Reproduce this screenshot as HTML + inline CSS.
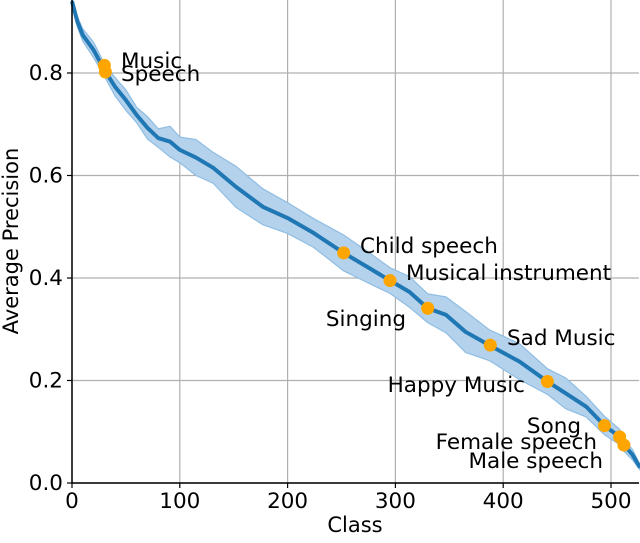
<!DOCTYPE html>
<html><head><meta charset="utf-8"><style>
body{margin:0;background:#fff}
svg text{font-family:"DejaVu Sans","Liberation Sans",sans-serif;fill:#000}
</style></head><body>
<svg id="chart" width="640" height="538" xmlns="http://www.w3.org/2000/svg"></svg>
<script>
const classes=[0,5,10,20,30,40,50,60,70,80,91,100,115,131,152,177,200,224,252,276,295,313,330,347,365,387,415,441,458,477,494,508,512,520,527];
const apValues=[0.94,0.90,0.874,0.845,0.806,0.773,0.747,0.718,0.693,0.673,0.666,0.650,0.635,0.615,0.578,0.539,0.517,0.488,0.449,0.419,0.395,0.373,0.341,0.328,0.295,0.269,0.237,0.198,0.175,0.149,0.112,0.090,0.074,0.055,0.03];
const spread=[0.005,0.01,0.012,0.015,0.012,0.018,0.02,0.015,0.022,0.018,0.03,0.025,0.035,0.03,0.04,0.035,0.03,0.028,0.035,0.03,0.025,0.03,0.028,0.035,0.04,0.03,0.035,0.025,0.03,0.02,0.018,0.015,0.012,0.01,0.005];
const markerClasses=[30,31,252,295,330,388,441,494,508,512];
const markerValues=[0.815,0.802,0.449,0.395,0.341,0.269,0.198,0.112,0.090,0.074];
const labelNames=["Music","Speech","Child speech","Musical instrument","Singing","Sad Music","Happy Music","Song","Female speech","Male speech"];
const xTicks=[0,100,200,300,400,500];
const yTicks=[0.0,0.2,0.4,0.6,0.8];

const L=72,R=639,T=0,B=483;
const xS=v=>L+v*(611-72)/500;
const yS=v=>B-v*512.5;
const svg=document.getElementById('chart');
const NS='http://www.w3.org/2000/svg';
function mk(tag,attrs,parent){const e=document.createElementNS(NS,tag);for(const k in attrs)e.setAttribute(k,attrs[k]);(parent||svg).appendChild(e);return e;}

xTicks.forEach(t=>{const g=mk('line',{x1:xS(t),x2:xS(t),y1:T,y2:B,stroke:'#b0b0b0','stroke-width':1.2});

});
yTicks.forEach(t=>{const g=mk('line',{x1:L,x2:R,y1:yS(t),y2:yS(t),stroke:'#b0b0b0','stroke-width':1.2});

});

let up=classes.map((c,i)=>xS(c)+','+yS(apValues[i]+spread[i]));
let lo=classes.map((c,i)=>xS(c)+','+yS(apValues[i]-spread[i])).reverse();
const band=mk('polygon',{points:up.concat(lo).join(' '),fill:'#b5d2ec',stroke:'#8ebde3','stroke-width':1.2});


const line=mk('polyline',{points:classes.map((c,i)=>xS(c)+','+yS(apValues[i])).join(' '),fill:'none',stroke:'#1f77b4','stroke-width':4,'stroke-linejoin':'round'});



markerClasses.forEach((c,i)=>{const m=mk('circle',{cx:xS(c),cy:yS(markerValues[i]),r:6.5,fill:'#ffa500'});

});

const lab=[[121,68,'start'],[121,81,'start'],[360,253,'start'],[406,280,'start'],[406,326,'end'],[507,345,'start'],[525,392,'end'],[581,433,'end'],[597,449,'end'],[603,468,'end']];
labelNames.forEach((n,i)=>{const t=mk('text',{x:lab[i][0],y:lab[i][1],'text-anchor':lab[i][2],'font-size':21.5});t.textContent=n;

});

const ax=mk('path',{d:`M${L},${T}V${B}H${R}`,fill:'none',stroke:'#000','stroke-width':1.5});


xTicks.forEach(t=>{mk('line',{x1:xS(t),x2:xS(t),y1:B,y2:B+5,stroke:'#000','stroke-width':1.2});
const tx=mk('text',{x:xS(t),y:B+25,'text-anchor':'middle','font-size':21.5});tx.textContent=t;

});
yTicks.forEach(t=>{mk('line',{x1:L-5,x2:L,y1:yS(t),y2:yS(t),stroke:'#000','stroke-width':1.2});
const tx=mk('text',{x:L-9,y:yS(t)+7,'text-anchor':'end','font-size':21.5});tx.textContent=t.toFixed(1);

});
const xt=mk('text',{x:355,y:532,'text-anchor':'middle','font-size':21});xt.textContent='Class';


const yt=mk('text',{x:0,y:0,'text-anchor':'middle','font-size':21,transform:'translate(18,241) rotate(-90)'});yt.textContent='Average Precision';


</script>
</body></html>
